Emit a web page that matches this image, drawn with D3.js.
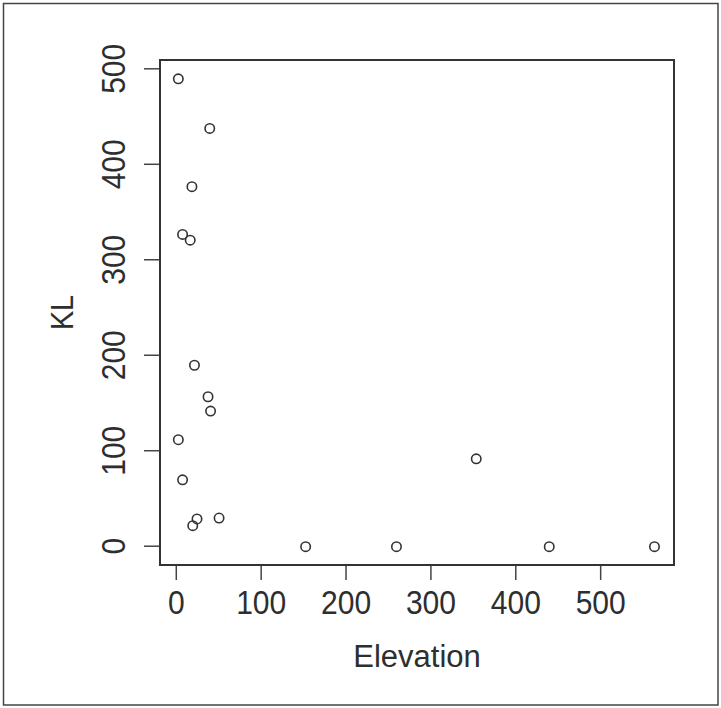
<!DOCTYPE html>
<html>
<head>
<meta charset="utf-8">
<script src="https://cdn.jsdelivr.net/npm/d3@7"></script>
<style>
  body { margin: 0; background: #fff; }
  svg text { font-family: "Liberation Sans", Arial, sans-serif; fill: #2e2e2e; }
</style>
</head>
<body>
<div class="container"></div>
<script>
// values
var elevation = [3, 40, 19, 8, 17, 22, 38, 41, 3, 8, 20, 25, 51, 153, 260, 354, 440, 564];
var kl        = [489, 437, 376, 326, 320, 189, 156, 141, 111, 69, 21, 28, 29, -1, -1, 91, -1, -1];
var xTicks = [0, 100, 200, 300, 400, 500];
var yTicks = [0, 100, 200, 300, 400, 500];

var w = 721;
var h = 708;
var plotLeft = 160, plotRight = 674, plotTop = 60, plotBottom = 565;

var svg = d3.select('.container')
  .append('svg')
  .attr('width', w)
  .attr('height', h);

/* outer border */
svg.append('rect')
  .attr('x', 3.5).attr('y', 3.5)
  .attr('width', 714.5).attr('height', 701.5)
  .attr('fill', 'none')
  .attr('stroke', '#444')
  .attr('stroke-width', 1.5);

var xScale = d3.scaleLinear()
  .domain([-18.6, 587])
  .range([plotLeft, plotRight]);

var yScale = d3.scaleLinear()
  .domain([-20.2, 508.7])
  .range([plotBottom, plotTop]);

var xAxis = d3.axisBottom(xScale)
  .tickValues(xTicks)
  .tickSize(15)
  .tickPadding(11);

var yAxis = d3.axisLeft(yScale)
  .tickValues(yTicks)
  .tickSize(16);

var gx = svg.append('g')
  .attr('transform', 'translate(0,' + plotBottom + ')')
  .call(xAxis);
gx.select('.domain').remove();
gx.selectAll('line').attr('stroke', '#444').attr('stroke-width', 1.5);
gx.selectAll('text')
  .style('font-size', '33px')
  .attr('fill', '#2e2e2e')
  .attr('transform', 'scale(0.91,1)');

var gy = svg.append('g')
  .attr('transform', 'translate(' + plotLeft + ',0)')
  .call(yAxis);
gy.select('.domain').remove();
gy.selectAll('line').attr('stroke', '#444').attr('stroke-width', 1.5);
gy.selectAll('text')
  .style('font-size', '33px')
  .attr('fill', '#2e2e2e')
  .attr('text-anchor', 'middle')
  .attr('dy', 0)
  .attr('x', 0)
  .attr('transform', 'translate(' + (125 - plotLeft) + ',0) rotate(-90) scale(0.91,1)');

/* plot frame */
svg.append('rect')
  .attr('x', plotLeft).attr('y', plotTop)
  .attr('width', plotRight - plotLeft).attr('height', plotBottom - plotTop)
  .attr('fill', 'none')
  .attr('stroke', '#333')
  .attr('stroke-width', 2);

/* points */
svg.append('g')
  .selectAll('circle')
  .data(elevation)
  .enter()
  .append('circle')
  .attr('cx', function(d) { return xScale(d); })
  .attr('cy', function(d, i) { return yScale(kl[i]); })
  .attr('r', 4.7)
  .attr('fill', 'none')
  .attr('stroke', '#333')
  .attr('stroke-width', 1.6);

/* axis titles */
svg.append('text')
  .attr('x', (plotLeft + plotRight) / 2)
  .attr('y', 667)
  .attr('text-anchor', 'middle')
  .style('font-size', '31px')
  .text('Elevation');

svg.append('text')
  .attr('transform', 'translate(73,' + (plotTop + plotBottom) / 2 + ') rotate(-90) scale(0.9,1)')
  .attr('text-anchor', 'middle')
  .style('font-size', '32px')
  .text('KL');
</script>
</body>
</html>
